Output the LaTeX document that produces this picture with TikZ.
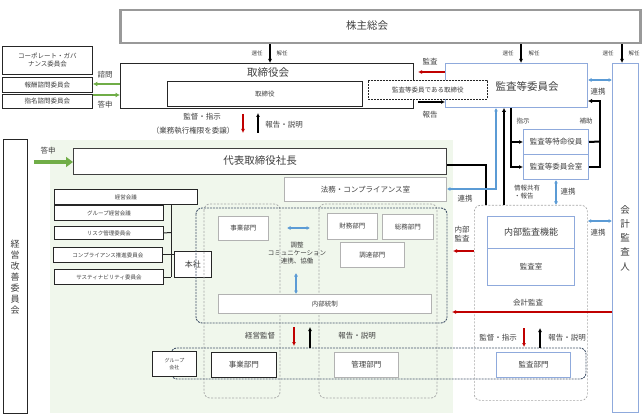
\documentclass[tikz,border=0pt]{standalone}
\usepackage{fontspec}
\setmainfont{Noto Sans CJK JP}
\usetikzlibrary{arrows.meta}
\definecolor{txt}{HTML}{404040}
\definecolor{bl}{HTML}{5B9BD5}
\definecolor{bbord}{HTML}{8FAADC}
\definecolor{rd}{HTML}{C00000}
\definecolor{gr}{HTML}{70AD47}
\definecolor{bgg}{HTML}{F0F7EC}
\definecolor{navy}{HTML}{44546A}
\definecolor{gdash}{HTML}{A6A6A6}
\newcommand\fsA{\fontsize{10.5}{12}\selectfont}
\newcommand\fsB{\fontsize{7.5}{9}\selectfont}
\newcommand\fsC{\fontsize{6.5}{8}\selectfont}
\newcommand\fsD{\fontsize{5.5}{7}\selectfont}
\newcommand\boxat[6]{\node[#1,anchor=north west,minimum width=#4pt,minimum height=#5pt] (#2) at (#3) {#6};}
\tikzset{
  kbox/.style={draw=black!85,line width=0.9pt,fill=white,align=center},
  gbox/.style={draw=black!30,line width=0.9pt,fill=white,align=center},
  bbox/.style={draw=bbord,line width=1pt,fill=white,align=center},
  gdbox/.style={draw=gdash,line width=0.7pt,dash pattern=on 2pt off 1.5pt,rounded corners=6pt},
  ndbox/.style={draw=navy,line width=0.9pt,dash pattern=on 2pt off 1pt,rounded corners=6pt},
  karr/.style={line width=1.4pt,-{Latex[length=4pt,width=4pt]}},
  rarr/.style={draw=rd,line width=1.4pt,-{Latex[length=4pt,width=4pt]}},
  barr/.style={draw=bl,line width=1.3pt,{Latex[length=3.5pt,width=4pt]}-{Latex[length=3.5pt,width=4pt]}},
  garr/.style={draw=gr,line width=1.6pt,-{Latex[length=4.5pt,width=5pt]}},
  lbl/.style={font=\fsB,text=txt},
  sml/.style={font=\fsD,text=txt},
}
\begin{document}
\begin{tikzpicture}[x=1pt,y=-1pt,every node/.style={text=txt,inner sep=0pt}]
\useasboundingbox (0,0) rectangle (644,419);
% green background
\fill[bgg] (50,140) rectangle (453,413);

% top
\boxat{draw=black!40,line width=2.5pt,fill=white}{kabu}{119,9}{520}{33}{}
\node[font=\fsA] (kabut) at (367,26) {株主総会};

\boxat{kbox,font=\fsC,text=txt}{cg}{2,46}{90}{28}{コーポレート・ガバ\\ナンス委員会}
\boxat{kbox,font=\fsC}{hoshu}{2,77}{90}{15}{報酬諮問委員会}
\boxat{kbox,font=\fsC}{shimei}{2,94}{90}{14}{指名諮問委員会}

\boxat{kbox}{torikai}{120,63}{293}{45}{}
\node[font=\fsA] (torikait) at (268,73) {取締役会};
\boxat{kbox,font=\fsC}{tori}{167,81}{195}{25}{取締役}

\boxat{bbox}{kansaiin}{445,63}{142}{44}{}
\node[font=\fsA] (kansaiint) at (527,87) {監査等委員会};
\boxat{draw=black!85,line width=0.9pt,dash pattern=on 2pt off 1pt,fill=white,font=\fsC}{kansatori}{368,80}{119}{19}{監査等委員である取締役}

\boxat{bbox,font=\fsB}{tokumei}{523,129}{65}{25}{監査等特命役員}
\boxat{bbox,font=\fsB}{iinshitsu}{523,154}{65}{25}{監査等委員会室}

\boxat{bbox}{kaikei}{612,63}{26}{349}{}
\node[font=\fontsize{9.5}{14.2}\selectfont,align=center] (kaikeit) at (625,238) {会\\計\\監\\査\\人};

\boxat{kbox}{kaizen}{3,139}{24}{274}{}
\node[font=\fontsize{9}{11}\selectfont,align=center] (kaizent) at (15,277) {経\\営\\改\\善\\委\\員\\会};

% 株主総会 arrows
\draw[karr] (kabu.south -| 270,0) -- (torikai.north -| 270,0);
\node[sml] at (257,53) {選任}; \node[sml] at (282,53) {解任};
\draw[karr] (kabu.south -| 521,0) -- (kansaiin.north -| 521,0);
\node[sml] at (508,53) {選任}; \node[sml] at (534,53) {解任};
\draw[karr] (kabu.south -| 622,0) -- (kaikei.north -| 622,0);
\node[sml] at (608,53) {選任}; \node[sml] at (634,53) {解任};

% green arrows
\draw[garr] (torikai.west |- 0,84) -- (hoshu.east |- 0,84);
\draw[garr] (shimei.east |- 0,95) -- (torikai.west |- 0,95);
\node[lbl] at (105,75) {諮問};
\node[lbl] at (105,105) {答申};

% 監査 / 報告
\draw[rarr] (kansaiin.west |- 0,72) -- (418,72);
\node[lbl] at (430,62) {監査};
\draw[karr] (418,102) -- (kansaiin.west |- 0,102);
\node[lbl] at (430,115) {報告};

% below board
\node[lbl] at (202,117) {監督・指示};
\node[lbl] at (193,131) {（業務執行権限を委譲）};
\draw[rarr] (torikai.south -| 243,0) ++(0,5) -- (243,133);
\draw[karr] (258,133) -- (258,113);
\node[lbl] at (284,125) {報告・説明};

% president
\boxat{draw=black!75,line width=1.3pt,fill=white}{daihyo}{73,148}{373}{26}{}
\node[font=\fsA] (daihyot) at (260,161) {代表取締役社長};
\draw[gr,line width=3.5pt,-{Triangle[length=7pt,width=10pt]}] (kaizen.east |- 0,162) ++(6,0) -- (daihyo.west |- 0,162);
\node[lbl] at (48,151) {答申};

\boxat{gbox,font=\fsB}{homu}{284,177}{162}{24}{法務・コンプライアンス室}

% committees
\boxat{kbox,font=\fsD}{keieikaigi}{54,189}{143}{15}{経営会議}
\boxat{kbox,font=\fsD}{grp}{54,205}{109}{15}{グループ経営会議}
\boxat{kbox,font=\fsD}{risk}{54,226}{109}{13}{リスク管理委員会}
\boxat{kbox,font=\fsD}{comp}{53,247}{109}{15}{コンプライアンス推進委員会}
\boxat{kbox,font=\fsD}{sus}{54,269}{109}{15}{サスティナビリティ委員会}
\boxat{kbox,font=\fontsize{8}{9}\selectfont}{honsha}{174,251}{37}{26}{本社}
\draw[black!85,line width=1pt] (keieikaigi.south -| 171,0) -- (171,277);
\draw[black!85,line width=1pt] (risk.east) -- (171,232.5);
\draw[black!85,line width=1pt] (comp.east) -- (honsha.west |- comp.east);
\draw[black!85,line width=1pt] (sus.east |- 0,277) -- (171,277);

% dashed regions
\draw[gdbox] (204,204) rectangle (280,398);
\draw[gdbox] (319,204) rectangle (437,398);
\draw[ndbox] (196,208) rectangle (447,323);
\draw[ndbox] (171,348) rectangle (586,379);
\node[gdbox,anchor=north west,minimum width=113pt,minimum height=195pt] (ia) at (474,205) {};

% departments
\boxat{gbox,font=\fsC}{jigyo}{218,216}{50}{24}{事業部門}
\boxat{gbox,font=\fsC}{zaimu}{327,213}{50}{26}{財務部門}
\boxat{gbox,font=\fsC}{somu}{382,214}{51}{25}{総務部門}
\boxat{gbox,font=\fsC}{chotatsu}{340,242}{64}{25}{調達部門}
\boxat{gbox,font=\fsC}{naibu}{218,294}{213}{19}{内部統制}
\coordinate (hl) at (287,228);
\coordinate (hr) at (310,228);
\draw[barr] (hl) -- (hr);
\node[font=\fsC,align=center] (chosei) at (297,253) {調整\\コミュニケーション\\連携、協働};
\coordinate (vt) at (296,273);
\draw[barr] (vt) -- (naibu.north -| vt);

% group companies
\boxat{kbox,font=\fontsize{5}{7}\selectfont}{grpco}{152,351}{44}{25}{グループ\\会社}
\boxat{kbox,font=\fsB}{jigyo2}{211,352}{65}{25}{事業部門}
\boxat{gbox,font=\fsB}{kanri}{334,352}{64}{25}{管理部門}
\boxat{bbox,font=\fsB}{kansabu}{496,352}{74}{25}{監査部門}

\draw[rarr] (294,327) -- (294,346);
\draw[karr] (310,348) -- (310,327);
\node[lbl] at (260,336) {経営監督};
\node[lbl] at (357,336) {報告・説明};
\draw[rarr] (524,328) -- (524,347);
\draw[karr] (540,348) -- (540,328);
\node[lbl] at (498,338) {監督・指示};
\node[lbl] at (567,338) {報告・説明};

% internal audit
\boxat{bbox,font=\fontsize{9}{10}\selectfont}{naibukansa}{487,216}{87}{32}{内部監査機能}
\boxat{bbox,font=\fsB}{kansashitsu}{487,248}{87}{37}{監査室}

% right-side connectors
\draw[black,line width=2pt] (daihyo.east |- 0,165) -| (ia.north -| 486,0);
\draw[black,line width=2pt,-{Latex[length=4pt,width=4.5pt]}] (ia.north -| 504,0) -- (kansaiin.south -| 504,0);
\draw[barr] (homu.east |- 0,189) -| (kansaiin.south -| 496,0);
\node[lbl] at (465,199) {連携};
\node[font=\fsC,align=left,anchor=west] at (514,192) {情報共有\\・報告};

\draw[black,line width=1.5pt,-{Latex[length=4pt,width=4pt]}] (kansaiin.south -| 511,0) |- (tokumei.west);
\draw[black,line width=1.5pt,-{Latex[length=4pt,width=4pt]}] (511,141) |- (iinshitsu.west);
\node[font=\fsC] at (523,121) {指示};
\draw[black,line width=2pt] (tokumei.east) -- (600,141.5);
\draw[black,line width=2pt,-{Latex[length=4pt,width=4.5pt]}] (iinshitsu.east) -| (600,101) -- (kansaiin.east |- 0,101);
\node[font=\fsC] at (586,121) {補助};

\draw[barr] (iinshitsu.south -| 556,0) -- (ia.north -| 556,0);
\node[lbl] at (568,192) {連携};
\draw[barr] (kansaiin.east |- 0,80) -- (kaikei.west |- 0,80);
\node[lbl] at (598,92) {連携};
\draw[barr] (ia.east |- 0,221) -- (kaikei.west |- 0,221);
\node[lbl] at (598,233) {連携};

\draw[rarr] (ia.west |- 0,251) -- (453,251);
\node[lbl,align=center] at (462,234) {内部\\監査};
\draw[rarr] (kaikei.west |- 0,312) -- (452,312);
\node[lbl] at (528,303) {会計監査};
\end{tikzpicture}
\end{document}
